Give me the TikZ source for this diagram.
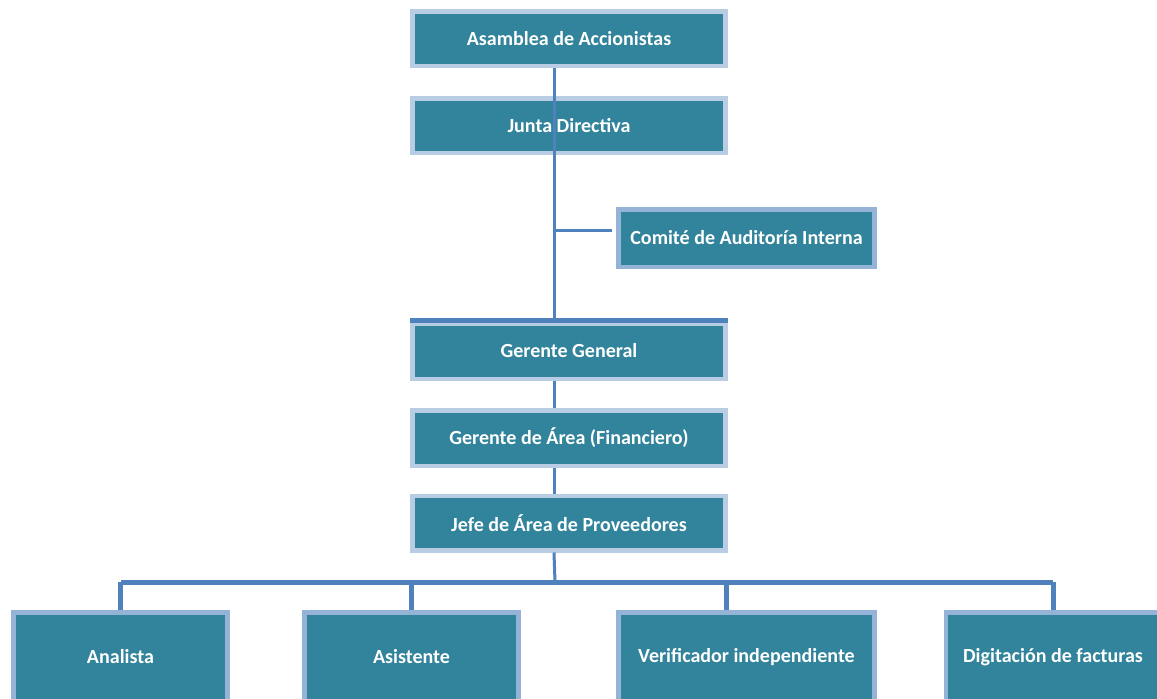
\documentclass[tikz,border=0pt]{standalone}
\usepackage{fontspec}
\setmainfont{Carlito}
\definecolor{boxfill}{HTML}{31849B}
\definecolor{rimlight}{HTML}{B8CCE4}
\definecolor{rimdark}{HTML}{95B3D7}
\definecolor{wire}{HTML}{4F81BD}
\begin{document}
\begin{tikzpicture}[x=0.02cm, y=-0.02cm,
  orgbox/.style={rectangle, fill=boxfill, draw=rimlight, line width=0.09cm,
    text=white, font=\fontsize{11.4}{13}\selectfont\bfseries,
    inner sep=0pt, minimum width=6.27cm, minimum height=1.09cm},
  sidebox/.style={orgbox, draw=rimdark, minimum width=5.13cm, minimum height=1.15cm},
  lowbox/.style={orgbox, draw=rimdark, minimum width=4.29cm, minimum height=1.79cm},
  thin/.style={draw=wire, line width=0.06cm},
  thick/.style={draw=wire, line width=0.1cm}]
\clip (0,0) rectangle (1157,698);
\fill[white] (0,0) rectangle (1157,698);

% management chain
\node[orgbox] (asamblea) at (569,38.5) {Asamblea de Accionistas};
\node[orgbox] (junta)    at (569,125.5) {Junta Directiva};
\node[sidebox] (comite)  at (746.5,238) {Comité de Auditoría Interna};
\node[orgbox, minimum height=1.11cm] (gg) at (569,351) {Gerente General};
\node[orgbox, minimum height=1.11cm] (ga) at (569,438) {Gerente de Área (Financiero)};
\node[orgbox] (jefe)     at (569,523) {Jefe de Área de Proveedores};

% staff row
\node[lowbox] (analista) at (120.5,657) {Analista};
\node[lowbox] (asistente) at (411.5,657) {Asistente};
\node[lowbox, minimum width=5.13cm] (verif) at (746.5,657) {Verificador independiente};
\node[lowbox] (digit) at (1053,657) {Digitación de facturas};

% reference lines
\coordinate (trunk) at (554,0);
\coordinate (bus) at (0,582);
\coordinate (branch) at (0,230);

% vertical chain
\draw[thin] (asamblea.south -| trunk) -- (gg.north -| trunk);
\draw[thick] ([yshift=0.01cm]gg.north west) -- ([yshift=0.01cm]gg.north east);
\draw[thin] (gg.south -| trunk) -- (ga.north -| trunk);
\draw[thin] (ga.south -| trunk) -- (jefe.north -| trunk);
\draw[thin] (jefe.south -| trunk) -- ([xshift=0.02cm]trunk |- bus);

% audit committee branch
\draw[thin] ([xshift=0.04cm]trunk |- branch) -- ([xshift=-0.08cm]comite.west |- branch);

% distribution bus and drops
\draw[thick] (analista.north |- bus) -- (digit.north |- bus);
\draw[thick] (analista.north |- bus) -- (analista.north);
\draw[thick] (asistente.north |- bus) -- (asistente.north);
\coordinate (verifdrop) at (726,0);
\draw[thick] (verifdrop |- bus) -- (verifdrop |- verif.north);
\draw[thick] (digit.north |- bus) -- (digit.north);
\end{tikzpicture}
\end{document}
